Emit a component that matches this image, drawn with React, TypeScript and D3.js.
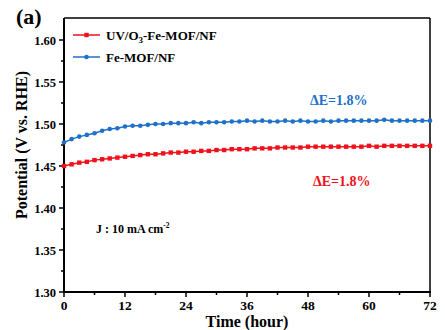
import React from "react";
import * as d3 from "d3";

const times: number[] = Array.from({ length: 49 }, (_, i) => i * 1.5);
const blueValues: number[] = [
  1.478, 1.482, 1.485, 1.487, 1.489, 1.492, 1.494, 1.495, 1.497, 1.498,
  1.498, 1.499, 1.500, 1.500, 1.501, 1.501, 1.501, 1.502, 1.501, 1.502,
  1.502, 1.502, 1.503, 1.503, 1.504, 1.503, 1.504, 1.503, 1.503, 1.504,
  1.503, 1.504, 1.503, 1.503, 1.504, 1.503, 1.504, 1.504, 1.504, 1.504,
  1.504, 1.504, 1.505, 1.504, 1.504, 1.504, 1.504, 1.504, 1.504,
];
const redValues: number[] = [
  1.450, 1.452, 1.454, 1.455, 1.457, 1.458, 1.459, 1.460, 1.461, 1.462,
  1.463, 1.464, 1.464, 1.465, 1.466, 1.466, 1.467, 1.467, 1.468, 1.468,
  1.469, 1.469, 1.470, 1.470, 1.470, 1.471, 1.471, 1.471, 1.472, 1.472,
  1.472, 1.472, 1.473, 1.473, 1.473, 1.473, 1.473, 1.473, 1.473, 1.473,
  1.474, 1.473, 1.474, 1.474, 1.474, 1.474, 1.474, 1.474, 1.474,
];
const xTicks: number[] = [0, 12, 24, 36, 48, 60, 72];
const xMinor: number[] = [6, 18, 30, 42, 54, 66];
const yTicks: number[] = [1.30, 1.35, 1.40, 1.45, 1.50, 1.55, 1.60];
const yMinor: number[] = [1.325, 1.375, 1.425, 1.475, 1.525, 1.575];
const seriesNames: string[] = ["UV/O3-Fe-MOF/NF", "Fe-MOF/NF"];

const RED = "#f0121b";
const BLUE = "#1f70c8";
const FONT = "Liberation Serif";

export default function App() {
  const L = 64, R = 430, T = 18, B = 292;
  const x = d3.scaleLinear().domain([0, 72]).range([L, R]);
  const y = d3.scaleLinear().domain([1.30, 1.6262]).range([B, T]);
  const line = d3.line<number>().x((_, i) => x(times[i])).y((v) => y(v));

  return (
    <svg width={445} height={330} style={{ position: "absolute", left: 0, top: 0 }}>
      <rect width={445} height={330} fill="#fff" />
      <g fontFamily={FONT} fontWeight="bold">
        {/* frame */}
        <line x1={L} x2={R} y1={T} y2={T} stroke="#000" strokeWidth={1.5} />
        <line x1={R} x2={R} y1={T} y2={B} stroke="#000" strokeWidth={1.5} />
        <line x1={L} x2={L} y1={T} y2={B + 1} stroke="#000" strokeWidth={2} />
        <line x1={L - 1} x2={R + 1} y1={B} y2={B} stroke="#000" strokeWidth={2} />
        {/* y ticks */}
        {yTicks.map((t) => (
          <g key={"y" + t}>
            <line x1={L - 5} x2={L} y1={y(t)} y2={y(t)} stroke="#000" strokeWidth={1.5} />
            <text x={L - 8} y={y(t) + 4.5} textAnchor="end" fontSize={12.5}>{t.toFixed(2)}</text>
          </g>
        ))}
        {yMinor.map((t) => (
          <line key={"ym" + t} x1={L - 3} x2={L} y1={y(t)} y2={y(t)} stroke="#000" strokeWidth={1.5} />
        ))}
        {/* x ticks */}
        {xTicks.map((t) => (
          <g key={"x" + t}>
            <line x1={x(t)} x2={x(t)} y1={B} y2={B + 5} stroke="#000" strokeWidth={1.5} />
            <text x={x(t)} y={B + 18} textAnchor="middle" fontSize={13.5}>{t}</text>
          </g>
        ))}
        {xMinor.map((t) => (
          <line key={"xm" + t} x1={x(t)} x2={x(t)} y1={B} y2={B + 3} stroke="#000" strokeWidth={1.5} />
        ))}
        {/* axis titles */}
        <text x={247} y={327} textAnchor="middle" fontSize={16}>Time (hour)</text>
        <text transform="translate(27,145) rotate(-90)" textAnchor="middle" fontSize={16}>Potential (V vs. RHE)</text>
        <text x={16} y={24} fontSize={22}>(a)</text>
        {/* series */}
        <path d={line(blueValues) || ""} fill="none" stroke={BLUE} strokeWidth={1.5} />
        {blueValues.map((v, i) => (
          <circle key={"b" + i} cx={x(times[i])} cy={y(v)} r={2.3} fill={BLUE} />
        ))}
        <path d={line(redValues) || ""} fill="none" stroke={RED} strokeWidth={1.5} />
        {redValues.map((v, i) => (
          <rect key={"r" + i} x={x(times[i]) - 2.2} y={y(v) - 2.2} width={4.4} height={4.4} fill={RED} />
        ))}
        {/* legend */}
        <line x1={73} x2={100} y1={35} y2={35} stroke={RED} strokeWidth={1.5} />
        <rect x={84.3} y={32.8} width={4.4} height={4.4} fill={RED} />
        <text x={106} y={40} fontSize={13}>
          UV/O<tspan fontSize={9} dy={3}>3</tspan><tspan dy={-3}>-Fe-MOF/NF</tspan>
        </text>
        <line x1={73} x2={100} y1={57} y2={57} stroke={BLUE} strokeWidth={1.5} />
        <circle cx={86.5} cy={57} r={2.3} fill={BLUE} />
        <text x={106} y={62} fontSize={13}>{seriesNames[1]}</text>
        {/* annotations */}
        <text x={310} y={105} fontSize={14} fill={BLUE}>ΔE=1.8%</text>
        <text x={313} y={186} fontSize={14} fill={RED}>ΔE=1.8%</text>
        <text x={96} y={233} fontSize={12}>
          J : 10 mA cm<tspan fontSize={7.5} dy={-5}>-2</tspan>
        </text>
      </g>
    </svg>
  );
}
